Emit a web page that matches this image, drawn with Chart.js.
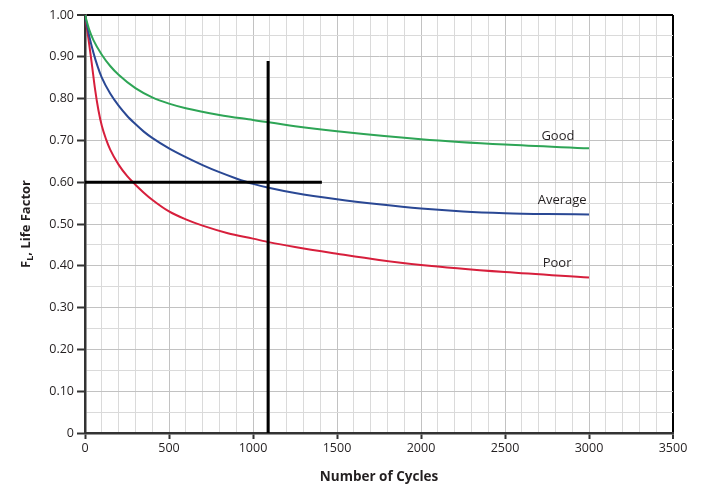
<!DOCTYPE html>
<html>
<head>
<meta charset="utf-8">
<script src="https://cdn.jsdelivr.net/npm/chart.js@4/dist/chart.umd.min.js"></script>
<style>
  html, body { margin: 0; padding: 0; background: #fff; }
  #lifeChart { display: block; }
</style>
</head>
<body>
<canvas id="lifeChart" width="722" height="489"></canvas>
<script>
// data
const goodX = [0, 25, 50, 100, 150, 200, 300, 400, 500, 600, 800, 1000, 1250, 1500, 2000, 2500, 3000];
const goodY = [1.0, 0.965, 0.940, 0.905, 0.878, 0.857, 0.825, 0.803, 0.788, 0.777, 0.761, 0.749, 0.734, 0.722, 0.703, 0.690, 0.681];

const averageX = [0, 25, 50, 75, 100, 150, 200, 250, 300, 350, 400, 500, 600, 700, 800, 900, 1000, 1100, 1250, 1500, 1750, 2000, 2250, 2500, 2750, 3000];
const averageY = [1.0, 0.950, 0.910, 0.877, 0.850, 0.812, 0.783, 0.759, 0.739, 0.721, 0.706, 0.681, 0.660, 0.641, 0.624, 0.609, 0.596, 0.586, 0.574, 0.559, 0.547, 0.537, 0.530, 0.526, 0.524, 0.523];

const poorX = [0, 20, 40, 60, 80, 100, 125, 150, 200, 250, 300, 350, 400, 500, 600, 700, 850, 1000, 1100, 1250, 1500, 1750, 2000, 2500, 3000];
const poorY = [1.0, 0.945, 0.885, 0.822, 0.772, 0.735, 0.703, 0.678, 0.642, 0.615, 0.594, 0.575, 0.558, 0.530, 0.511, 0.496, 0.478, 0.465, 0.456, 0.445, 0.429, 0.414, 0.402, 0.385, 0.372];

// crosshair drawn on the chart
const vLineX = [1090, 1090];
const vLineY = [0, 0.89];
const hLineX = [0, 1410];
const hLineY = [0.6, 0.6];

// curve labels (data units)
const curveNames = ['Good', 'Average', 'Poor'];
const curveLabelX = [2815, 2840, 2810];
const curveLabelY = [0.711, 0.556, 0.407];

const xTickLabels = ['0', '500', '1000', '1500', '2000', '2500', '3000', '3500'];
const yTickLabels = ['0', '0.10', '0.20', '0.30', '0.40', '0.50', '0.60', '0.70', '0.80', '0.90', '1.00'];

const FONT = "'Open Sans', sans-serif";

function toPoints(xs, ys) {
    return xs.map((x, i) => ({ x: x, y: ys[i] }));
}

const labelsPlugin = {
    id: 'curveLabels',
    afterDraw(chart) {
        const c = chart.ctx;
        const xs = chart.scales.x;
        const ys = chart.scales.y;
        c.save();
        c.fillStyle = '#231f20';
        c.font = '13px ' + FONT;
        c.textAlign = 'center';
        c.textBaseline = 'middle';
        curveNames.forEach((name, i) => {
            c.fillText(name, xs.getPixelForValue(curveLabelX[i]), ys.getPixelForValue(curveLabelY[i]));
        });

        // y axis title with subscript L
        const area = chart.chartArea;
        const cy = (area.top + area.bottom) / 2;
        c.translate(25, cy);
        c.rotate(-Math.PI / 2);
        c.textAlign = 'left';
        c.textBaseline = 'alphabetic';
        const bold = 'bold 13px ' + FONT;
        const small = 'bold 9px ' + FONT;
        c.font = bold;
        const wF = c.measureText('F').width;
        const rest = ', Life Factor';
        const wRest = c.measureText(rest).width;
        c.font = small;
        const wL = c.measureText('L').width;
        const total = wF + wL + wRest;
        let x = -total / 2;
        const base = 5;
        c.font = bold;
        c.fillText('F', x, base);
        x += wF;
        c.font = small;
        c.fillText('L', x, base + 3);
        x += wL;
        c.font = bold;
        c.fillText(rest, x, base);
        c.restore();
    }
};

const ctx = document.getElementById('lifeChart').getContext('2d');

new Chart(ctx, {
    type: 'line',
    data: {
        datasets: [
            {
                label: 'Good',
                data: toPoints(goodX, goodY),
                borderColor: '#2ea556',
                borderWidth: 2,
                pointRadius: 0,
                cubicInterpolationMode: 'monotone',
                order: 2
            },
            {
                label: 'Average',
                data: toPoints(averageX, averageY),
                borderColor: '#2a4894',
                borderWidth: 2,
                pointRadius: 0,
                cubicInterpolationMode: 'monotone',
                order: 2
            },
            {
                label: 'Poor',
                data: toPoints(poorX, poorY),
                borderColor: '#d71f3c',
                borderWidth: 2,
                pointRadius: 0,
                cubicInterpolationMode: 'monotone',
                order: 2
            },
            {
                label: 'vline',
                data: toPoints(vLineX, vLineY),
                borderColor: '#000',
                borderWidth: 3,
                pointRadius: 0,
                order: 1
            },
            {
                label: 'hline',
                data: toPoints(hLineX, hLineY),
                borderColor: '#000',
                borderWidth: 3,
                pointRadius: 0,
                order: 1
            }
        ]
    },
    options: {
        responsive: false,
        animation: false,
        layout: {
            padding: { left: 0, right: 49, top: 15, bottom: 0 }
        },
        plugins: {
            legend: { display: false },
            tooltip: { enabled: false }
        },
        scales: {
            x: {
                type: 'linear',
                min: 0,
                max: 3500,
                afterFit(scale) { scale.height = 56; },
                ticks: {
                    stepSize: 100,
                    autoSkip: false,
                    maxRotation: 0,
                    padding: 2,
                    color: '#231f20',
                    font: { family: FONT, size: 12.5 },
                    callback: function(value) {
                        if (value % 500 !== 0) return '';
                        return xTickLabels[value / 500];
                    }
                },
                grid: {
                    drawTicks: true,
                    tickLength: 6,
                    color: function(context) {
                        const v = context.tick ? context.tick.value : 0;
                        if (v === 3500) return '#000';
                        return v % 500 === 0 ? '#c2c2c2' : '#dadada';
                    },
                    lineWidth: function(context) {
                        const v = context.tick ? context.tick.value : 0;
                        return v === 3500 ? 2 : 1;
                    },
                    tickColor: function(context) {
                        const v = context.tick ? context.tick.value : 0;
                        return v % 500 === 0 ? '#333' : 'rgba(0,0,0,0)';
                    },
                    tickWidth: 2
                },
                border: { color: '#333', width: 2.5 },
                title: {
                    display: true,
                    text: 'Number of Cycles',
                    color: '#231f20',
                    font: { family: FONT, size: 13.5, weight: 'bold' },
                    padding: { top: 6 }
                }
            },
            y: {
                type: 'linear',
                min: 0,
                max: 1,
                afterFit(scale) { scale.width = 85; },
                ticks: {
                    stepSize: 0.05,
                    autoSkip: false,
                    padding: 3,
                    color: '#231f20',
                    font: { family: FONT, size: 12.5 },
                    callback: function(value) {
                        const k = Math.round(value * 100);
                        if (k % 10 !== 0) return '';
                        return yTickLabels[k / 10];
                    }
                },
                grid: {
                    tickLength: 8,
                    color: function(context) {
                        const k = context.tick ? Math.round(context.tick.value * 100) : 0;
                        if (k === 100) return '#000';
                        return k % 10 === 0 ? '#c2c2c2' : '#dadada';
                    },
                    lineWidth: function(context) {
                        const k = context.tick ? Math.round(context.tick.value * 100) : 0;
                        return k === 100 ? 2 : 1;
                    },
                    tickColor: function(context) {
                        const k = context.tick ? Math.round(context.tick.value * 100) : 0;
                        return k % 10 === 0 ? '#333' : 'rgba(0,0,0,0)';
                    },
                    tickWidth: 2
                },
                border: { color: '#333', width: 2.5 }
            }
        }
    },
    plugins: [labelsPlugin]
});
</script>
</body>
</html>
